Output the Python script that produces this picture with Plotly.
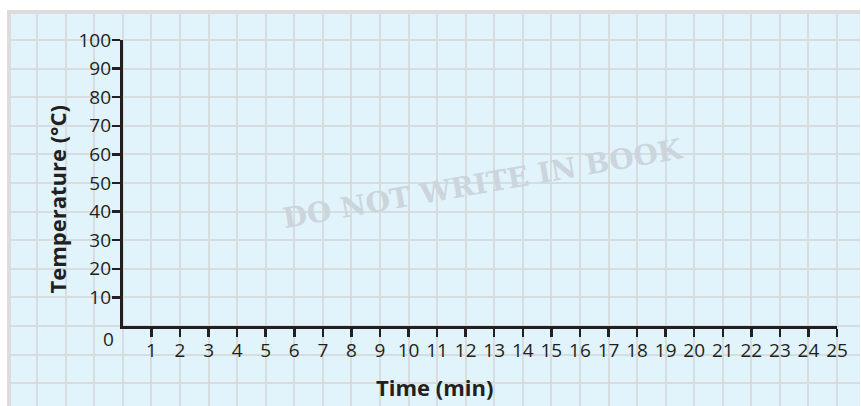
import plotly.graph_objects as go

# axis ticks
time_ticks = list(range(1, 26))
temp_ticks = list(range(10, 101, 10))
x_title = "Time (min)"
y_title = "Temperature (°C)"
watermark = "DO NOT WRITE IN BOOK"

# the page comes out squeezed a little horizontally, so widen x pixel values
SX = 871 / 861
W, H = 871, 406
ML, MT = 11 * SX, 14
PW, PH = W - ML, H - MT
ux, uy = 28.6 * SX, 28.6  # pixels per grid square
ox, oy = 123 * SX, 326  # origin pixel inside the figure

ink = "#231f20"
blue = "#e1f3fb"
grid = "#d7dcdf"

fig = go.Figure()

# background grid subplot
fig.add_trace(go.Scatter(x=[0], y=[0], mode="markers", marker=dict(opacity=0),
                         hoverinfo="skip", showlegend=False, xaxis="x", yaxis="y"))
# real axes subplot
fig.add_trace(go.Scatter(x=[0, 25], y=[0, 100], mode="markers", marker=dict(opacity=0),
                         hoverinfo="skip", showlegend=False, xaxis="x2", yaxis="y2"))

tick_font = dict(family="Open Sans", size=19, color=ink)
title_font = dict(family="Open Sans", size=22, color=ink, weight="bold")

fig.update_layout(
    width=W, height=H,
    margin=dict(l=ML, r=0, t=MT, b=0),
    paper_bgcolor="white",
    plot_bgcolor="rgba(0,0,0,0)",
    showlegend=False,
    xaxis=dict(
        range=[(ML - ox) / ux, (W - ox) / ux],
        tick0=0, dtick=1, showgrid=True, gridcolor=grid, gridwidth=2,
        showticklabels=False, zeroline=False, showline=False, ticks="",
        fixedrange=True,
    ),
    yaxis=dict(
        range=[(oy - H) / uy * 10, (oy - MT) / uy * 10],
        tick0=0, dtick=10, showgrid=True, gridcolor=grid, gridwidth=2,
        showticklabels=False, zeroline=False, showline=False, ticks="",
        fixedrange=True,
    ),
    xaxis2=dict(
        domain=[(ox - ML) / PW, (ox + 25 * ux - ML) / PW],
        range=[0, 25], anchor="y2",
        tickvals=time_ticks, ticktext=[str(t) for t in time_ticks],
        ticks="outside", ticklen=8, tickwidth=2.5, tickcolor=ink,
        ticklabelstandoff=-3,
        showline=True, linewidth=3, linecolor=ink,
        showgrid=False, zeroline=False, tickfont=tick_font,
    ),
    yaxis2=dict(
        domain=[(H - oy) / PH, (H - oy + 10 * uy) / PH],
        range=[0, 100], anchor="x2",
        tickvals=temp_ticks, ticktext=[str(t) for t in temp_ticks],
        ticks="outside", ticklen=8, tickwidth=2.5, tickcolor=ink,
        ticklabelstandoff=-3,
        showline=True, linewidth=3, linecolor=ink,
        showgrid=False, zeroline=False, tickfont=tick_font,
    ),
    shapes=[
        dict(type="rect", xref="paper", yref="paper",
             x0=0, x1=1, y0=0, y1=1,
             fillcolor=blue, line=dict(width=0), layer="below"),
        dict(type="rect", xref="paper", yref="paper",
             x0=-4 / PW, x1=0, y0=0, y1=1 + 4 / PH,
             fillcolor="#dcdcdc", line=dict(width=0), layer="above"),
        dict(type="rect", xref="paper", yref="paper",
             x0=-4 / PW, x1=1, y0=1, y1=1 + 4 / PH,
             fillcolor="#dcdcdc", line=dict(width=0), layer="above"),
    ],
    annotations=[
        dict(text="0", x=-0.52, y=-4.5, xref="x", yref="y",
             showarrow=False, font=tick_font),
        dict(text=x_title, x=10.91, y=-21.3, xref="x", yref="y",
             showarrow=False, font=title_font),
        dict(text=y_title, x=-2.31, y=44.5, xref="x", yref="y",
             showarrow=False, font=title_font, textangle=-90),
        dict(text=watermark, x=12.62, y=50.0, xref="x", yref="y",
             showarrow=False, textangle=-10,
             font=dict(family="DejaVu Serif", size=28, color="#cbd5db", weight="bold")),
    ],
)

# drop the default page margin and scrollbars so the figure fills the window
fig.write_html(
    "out.html",
    config={"displayModeBar": False, "staticPlot": True},
    post_script="document.body.style.margin='0';document.body.style.overflow='hidden';",
)
